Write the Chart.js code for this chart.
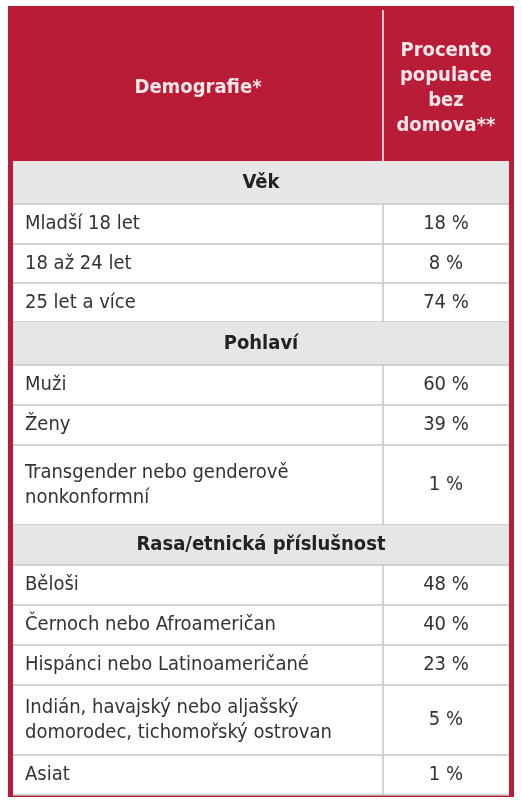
<!DOCTYPE html>
<html><head><meta charset="utf-8">
<script src="https://cdn.jsdelivr.net/npm/chart.js@4"></script>
<style>html,body{margin:0;background:#fff}#wrap{width:522px;height:800px}</style>
</head><body><div id="wrap"><canvas id="c"></canvas></div>
<script>
var headers = ["Demografie*", "Procento\npopulace\nbez\ndomova**"];
var rowLabels = ["Věk", "Mladší 18 let", "18 až 24 let", "25 let a více",
  "Pohlaví", "Muži", "Ženy", "Transgender nebo genderově\nnonkonformní",
  "Rasa/etnická příslušnost", "Běloši", "Černoch nebo Afroameričan",
  "Hispánci nebo Latinoameričané", "Indián, havajský nebo aljašský\ndomorodec, tichomořský ostrovan", "Asiat"];
var rowValues = [null, "18 %", "8 %", "74 %", null, "60 %", "39 %", "1 %",
  null, "48 %", "40 %", "23 %", "5 %", "1 %"];
var rowBottoms = [204, 244, 283, 322, 365, 405, 445, 525, 565, 605, 645, 685, 755, 795];

var FONT = '"Liberation Sans Narrow","DejaVu Sans Condensed",sans-serif';
var L = 13, R = 509, MID = 383, TOP = 6, HEAD = 161;

var tablePlugin = {
  id: 'table',
  afterDraw: function (chart) {
    var ctx = chart.ctx, x = chart.scales.x, y = chart.scales.y;
    function px(v) { return x.getPixelForValue(v); }
    function py(v) { return y.getPixelForValue(v); }
    function text(s, cx, cy, align, bold, color) {
      ctx.fillStyle = color;
      ctx.font = (bold ? 'bold ' : '') + '20px ' + FONT;
      ctx.textAlign = align; ctx.textBaseline = 'middle';
      var lines = s.split('\n'), lh = 25;
      lines.forEach(function (ln, i) {
        ctx.fillText(ln, cx, cy + (i - (lines.length - 1) / 2) * lh);
      });
    }
    ctx.save();
    // outer red frame + header
    ctx.fillStyle = '#b81c36';
    ctx.fillRect(px(8), py(TOP), px(514) - px(8), py(800) - py(TOP) - 3);
    ctx.fillStyle = '#fff';
    ctx.fillRect(px(L), py(HEAD), px(R) - px(L), py(795) - py(HEAD));
    ctx.strokeStyle = '#fff'; ctx.lineWidth = 1.5;
    ctx.beginPath(); ctx.moveTo(px(MID), py(10)); ctx.lineTo(px(MID), py(HEAD)); ctx.stroke();
    text(headers[0], px((L + MID) / 2), py(88), 'center', true, '#fbe6ea');
    text(headers[1], px((MID + R) / 2), py(88), 'center', true, '#fbe6ea');
    var top = HEAD;
    rowLabels.forEach(function (lab, i) {
      var b = rowBottoms[i], section = rowValues[i] === null;
      if (section) {
        ctx.fillStyle = '#e6e6e6';
        ctx.fillRect(px(L), py(top), px(R) - px(L), py(b) - py(top));
        text(lab, px((L + R) / 2), py((top + b) / 2), 'center', true, '#222');
      } else {
        text(lab, px(L + 12), py((top + b) / 2), 'left', false, '#333');
        text(rowValues[i], px((MID + R) / 2), py((top + b) / 2), 'center', false, '#333');
        ctx.strokeStyle = '#c4c4c4'; ctx.lineWidth = 1.5;
        ctx.beginPath(); ctx.moveTo(px(MID), py(top)); ctx.lineTo(px(MID), py(b)); ctx.stroke();
      }
      ctx.strokeStyle = '#c4c4c4'; ctx.lineWidth = 1.5;
      ctx.beginPath(); ctx.moveTo(px(L), py(b)); ctx.lineTo(px(R), py(b)); ctx.stroke();
      top = b;
    });
    ctx.restore();
  }
};

new Chart(document.getElementById('c'), {
  type: 'scatter',
  data: { datasets: [{ data: [], pointRadius: 0 }] },
  options: {
    responsive: true, maintainAspectRatio: false, animation: false,
    layout: { padding: 0 },
    plugins: { legend: { display: false }, tooltip: { enabled: false } },
    scales: {
      x: { type: 'linear', min: 0, max: 522, display: false },
      y: { type: 'linear', min: 0, max: 800, reverse: true, display: false }
    }
  },
  plugins: [tablePlugin]
});
</script></body></html>
